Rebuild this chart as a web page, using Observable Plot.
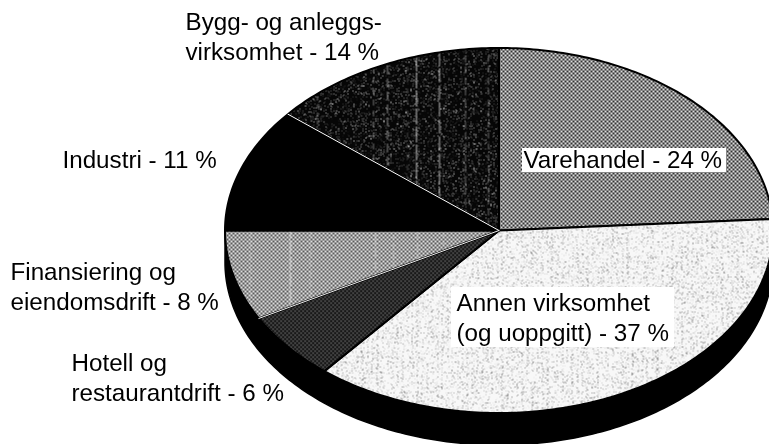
<!DOCTYPE html>
<html><head><meta charset="utf-8">
<style>html,body{margin:0;padding:0;background:#fff}svg{display:block;filter:blur(0.35px)}</style>
<script src="https://cdn.jsdelivr.net/npm/d3@7"></script>
<script src="https://cdn.jsdelivr.net/npm/@observablehq/plot@0.6"></script>
</head><body><div id="chart"></div>
<script>
const categories = ["Varehandel","Annen virksomhet (og uoppgitt)","Hotell og restaurantdrift","Finansiering og eiendomsdrift","Industri","Bygg- og anleggsvirksomhet"];
const shares = [24,37,6,8,11,14];
const textures = ["url(#vare)","url(#annen)","url(#hotell)","url(#fin)","#000","url(#bygg)"];
const labelText = ["Bygg- og anleggs-","virksomhet - 14 %","Industri - 11 %","Finansiering og","eiendomsdrift - 8 %","Hotell og","restaurantdrift - 6 %","Varehandel - 24 %","Annen virksomhet","(og uoppgitt) - 37 %"];
const labelLeft = [185,185,62,10,10,71,71,523,456,456];
const labelMid = [22,52,160,272,302,363,393,160,303,333];
const cx=498.5, cy=230, rx=274, ry=182.5, depth=32;
let acc=0;
const slices = shares.map((s,i)=>{
  const a0=acc/100*2*Math.PI, a1=(acc+s)/100*2*Math.PI; acc+=s;
  const pts=[{x:0,y:0}];
  const n=Math.max(8,Math.round(s*4));
  for(let k=0;k<=n;k++){const a=a0+(a1-a0)*k/n;pts.push({x:Math.sin(a),y:Math.cos(a)});}
  pts.push({x:0,y:0});
  return {name:categories[i],pts,fill:textures[i]};
});
const dy=depth/ry;
const rim=[];
for(let k=0;k<=180;k++){const a=Math.PI/2+Math.PI*k/180;rim.push({x:Math.sin(a),y:Math.cos(a)-dy});}
for(let k=180;k>=0;k--){const a=Math.PI/2+Math.PI*k/180;rim.push({x:Math.sin(a),y:Math.cos(a)});}
const X=px=>(px-cx)/rx, Y=py=>(cy-py)/ry;
const labels = labelText.map((t,i)=>({t,x:X(labelLeft[i]),y:Y(labelMid[i])}));
const boxes = [[522,726,148,172],[451,674,287,347]].map(([a,b,c,d])=>({x1:X(a),x2:X(b),y1:Y(c),y2:Y(d)}));
const edge = i => [{x:0,y:0},slices[i].pts[slices[i].pts.length-2]];

const streak=(x,o,w,dash)=>`<line x1="${x}" x2="${x}" y1="0" y2="444" stroke="#ddd" stroke-width="${w}" opacity="${o}" stroke-dasharray="${dash}"/>`;
function defs(){
  const d=document.createElementNS("http://www.w3.org/2000/svg","defs");
  d.innerHTML=`
  <pattern id="vare" width="4" height="4" patternUnits="userSpaceOnUse">
    <rect width="4" height="4" fill="#dcdcdc"/><rect width="2" height="2" fill="#333"/><rect x="2" y="2" width="2" height="2" fill="#333"/>
  </pattern>
  <filter id="nLight" x="0" y="0" width="100%" height="100%">
    <feTurbulence type="fractalNoise" baseFrequency="2.2" numOctaves="1" seed="4"/>
    <feColorMatrix values="0 0 0 0 0.25  0 0 0 0 0.25  0 0 0 0 0.25  7 0 0 0 -4"/>
  </filter>
  <filter id="nDark" x="0" y="0" width="100%" height="100%">
    <feTurbulence type="fractalNoise" baseFrequency="1.4" numOctaves="1" seed="9"/>
    <feColorMatrix values="0 0 0 0 1  0 0 0 0 1  0 0 0 0 1  6 0 0 0 -3.6"/>
  </filter>
  <pattern id="annen" width="769" height="444" patternUnits="userSpaceOnUse">
    <rect width="769" height="444" fill="#f8f8f8"/><rect width="769" height="444" filter="url(#nLight)"/>
  </pattern>
  <pattern id="hotell" width="4" height="4" patternUnits="userSpaceOnUse">
    <rect width="4" height="4" fill="#181818"/><rect width="1.2" height="1.2" fill="#8a8a8a"/><rect x="2" y="2" width="1.2" height="1.2" fill="#8a8a8a"/>
  </pattern>
  <pattern id="finBase" width="4" height="4" patternUnits="userSpaceOnUse">
    <rect width="4" height="4" fill="#dcdcdc"/><rect width="2" height="2" fill="#5c5c5c"/><rect x="2" y="2" width="2" height="2" fill="#5c5c5c"/>
  </pattern>
  <pattern id="fin" width="769" height="444" patternUnits="userSpaceOnUse">
    <rect width="769" height="444" fill="url(#finBase)"/>
    ${[[250,.5,1,"9 3"],[290,.9,1.2,"14 2"],[310,.5,1,"7 3"],[375,.7,1,"10 3"],[393,.5,1,"6 3"],[417,.6,1,"8 3"],[443,.5,1,"5 3"]].map(a=>streak(...a)).join("")}
  </pattern>
  <pattern id="bygg" width="769" height="444" patternUnits="userSpaceOnUse">
    <rect width="769" height="444" fill="#060606"/><rect width="769" height="444" filter="url(#nDark)"/>
    ${[[317,.5,1,"4 4"],[373,.5,1,"6 5"],[387,.6,1,"9 4"],[407,.3,1,"5 6"],[416,.85,1,"16 2"],[439,.8,1,"14 3"],[465,.45,1,"7 4"],[488,.45,1,"6 5"]].map(a=>streak(...a)).join("")}
  </pattern>`;
  return d;
}
const chart = Plot.plot({
  width:769,height:444,margin:0,
  style:{background:"#fff",fontFamily:"'Liberation Sans',Arial,sans-serif"},
  x:{domain:[-1,1],range:[cx-rx,cx+rx],axis:null},
  y:{domain:[1,-1],range:[cy-ry,cy+ry],axis:null},
  marks:[
    defs,
    Plot.line(rim,{x:"x",y:"y",fill:"#000",stroke:"#000"}),
    ...slices.map(s=>Plot.line(s.pts,{x:"x",y:"y",fill:s.fill,stroke:"#000",strokeWidth:2})),
    Plot.line(edge(4),{x:"x",y:"y",stroke:"#fff",strokeWidth:1}),
    Plot.line(edge(2),{x:"x",y:"y",stroke:"#f2f2f2",strokeWidth:1}),
    Plot.rect(boxes,{x1:"x1",x2:"x2",y1:"y1",y2:"y2",fill:"#fff"}),
    Plot.text(labels,{x:"x",y:"y",text:"t",textAnchor:"start",lineAnchor:"middle",fontSize:24.2,fill:"#000"})
  ]
});
document.getElementById("chart").append(chart);
</script></body></html>
